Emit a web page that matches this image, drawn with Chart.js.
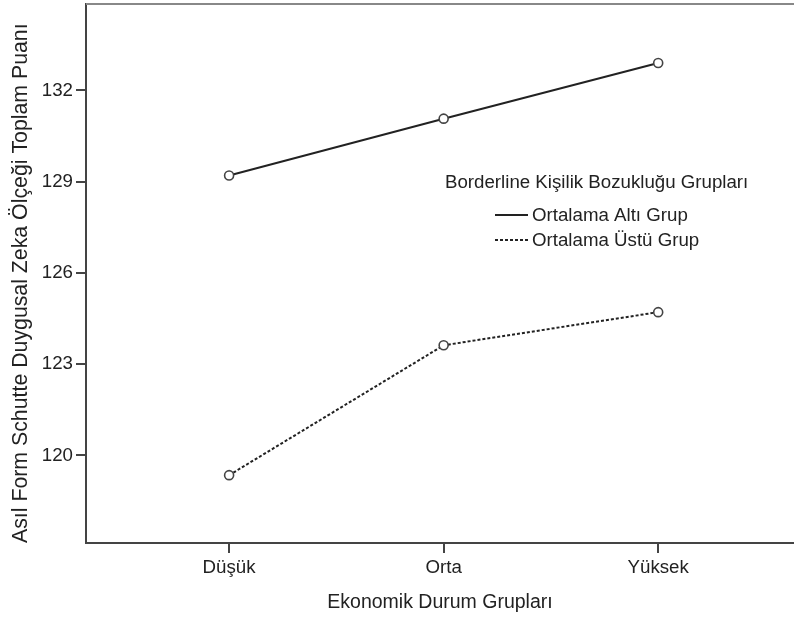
<!DOCTYPE html>
<html>
<head>
<meta charset="utf-8">
<script src="https://cdn.jsdelivr.net/npm/chart.js@4"></script>
<style>
html,body{margin:0;padding:0;background:#fff;}
#wrap{width:794px;height:617px;}
</style>
</head>
<body>
<div id="wrap"><canvas id="c" width="794" height="617"></canvas></div>
<script>
const categories = ['Düşük', 'Orta', 'Yüksek'];
const seriesNames = ['Ortalama Altı Grup', 'Ortalama Üstü Grup'];
const altiGrup = [129.2, 131.07, 132.9];
const ustuGrup = [119.35, 123.62, 124.71];
const yTicks = [120, 123, 126, 129, 132];
const legendTitle = 'Borderline Kişilik Bozukluğu Grupları';
const xTitle = 'Ekonomik Durum Grupları';
const yTitle = 'Asıl Form Schutte Duygusal Zeka Ölçeği Toplam Puanı';

const FONT = 'Arial, "Liberation Sans", sans-serif';
const TXT = '#222';
const FS = 18.7;

const toPoints = arr => arr.map((v, i) => ({x: i, y: v}));

const frame = {
  id: 'frame',
  afterDraw(chart) {
    const {ctx, chartArea: a} = chart;
    ctx.save();
    ctx.strokeStyle = '#888';
    ctx.lineWidth = 2;
    ctx.beginPath();
    ctx.moveTo(a.left, a.top);
    ctx.lineTo(a.right, a.top);
    ctx.stroke();
    // legend
    ctx.fillStyle = TXT;
    ctx.font = FS + 'px ' + FONT;
    ctx.textBaseline = 'middle';
    ctx.textAlign = 'left';
    ctx.fillText(legendTitle, 445, 183);
    const ds = chart.data.datasets;
    const rows = [215, 240];
    ds.forEach((d, i) => {
      ctx.strokeStyle = d.borderColor;
      ctx.lineWidth = 2;
      ctx.setLineDash(d.borderDash || []);
      ctx.beginPath();
      ctx.moveTo(495, rows[i]);
      ctx.lineTo(528, rows[i]);
      ctx.stroke();
      ctx.setLineDash([]);
      ctx.fillText(d.label, 532, rows[i] + 1);
    });
    ctx.restore();
  }
};

new Chart(document.getElementById('c'), {
  type: 'line',
  data: {
    datasets: [
      {
        label: seriesNames[0],
        data: toPoints(altiGrup),
        borderColor: '#222',
        borderWidth: 2,
        pointRadius: 4.5,
        pointBackgroundColor: '#fff',
        pointBorderColor: '#444',
        pointBorderWidth: 1.6,
        tension: 0
      },
      {
        label: seriesNames[1],
        data: toPoints(ustuGrup),
        borderColor: '#222',
        borderWidth: 2,
        borderDash: [3, 2],
        pointRadius: 4.5,
        pointBackgroundColor: '#fff',
        pointBorderColor: '#444',
        pointBorderWidth: 1.6,
        tension: 0
      }
    ]
  },
  options: {
    responsive: false,
    animation: false,
    layout: {autoPadding: false, padding: {top: 4, right: 0, left: 0, bottom: 0}},
    plugins: {legend: {display: false}, tooltip: {enabled: false}},
    scales: {
      x: {
        type: 'linear',
        min: -0.667,
        max: 2.633,
        afterBuildTicks(scale) { scale.ticks = categories.map((c, i) => ({value: i})); },
        afterFit(scale) { scale.height = 74; scale.paddingLeft = 0; scale.paddingRight = 0; },
        ticks: {
          callback: v => categories[v],
          color: TXT,
          font: {family: FONT, size: FS},
          padding: 4,
          maxRotation: 0,
          autoSkip: false
        },
        grid: {drawOnChartArea: false, drawTicks: true, tickLength: 10, color: '#444', lineWidth: 2},
        border: {display: true, color: '#444', width: 2},
        title: {display: true, text: xTitle, color: TXT, font: {family: FONT, size: 19.5}, padding: {top: 0, bottom: 3}}
      },
      y: {
        type: 'linear',
        min: 117.12,
        max: 134.84,
        afterBuildTicks(scale) { scale.ticks = yTicks.map(v => ({value: v})); },
        afterFit(scale) { scale.width = 86; scale.paddingTop = 0; scale.paddingBottom = 0; },
        ticks: {
          color: TXT,
          font: {family: FONT, size: FS},
          padding: 3
        },
        grid: {drawOnChartArea: false, drawTicks: true, tickLength: 10, color: '#444', lineWidth: 2},
        border: {display: true, color: '#444', width: 2},
        title: {display: true, text: yTitle, align: 'start', color: TXT, font: {family: FONT, size: 21.3}, padding: {top: 8, bottom: 0}}
      }
    }
  },
  plugins: [frame]
});
</script>
</body>
</html>
